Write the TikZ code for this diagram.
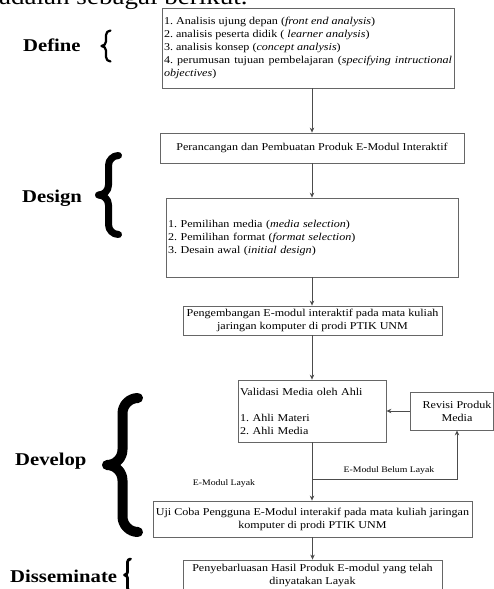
\documentclass[tikz,border=0pt]{standalone}
\usepackage{fontspec}
\setmainfont{Liberation Serif}[FakeStretch=1.15]
\usetikzlibrary{arrows.meta}
\frenchspacing
\newcommand\drawbrace[5]{% x0 x1 y0 y1 linewidth
  \pgfmathsetmacro\bcXa{(#1+#2)/2}%
  \pgfmathsetmacro\bcR{(#2-#1)/2}%
  \pgfmathsetmacro\bcYm{(#3+#4)/2}%
  \draw[line width=#5, line cap=round, line join=round]
    (#2,#3) .. controls ({#2-0.552*\bcR},#3) and (\bcXa,{#3+0.448*\bcR}) .. (\bcXa,{#3+\bcR})
    -- (\bcXa,{\bcYm-\bcR}) .. controls (\bcXa,{\bcYm-0.448*\bcR}) and ({#1+0.552*\bcR},\bcYm) .. (#1,\bcYm)
    .. controls ({#1+0.552*\bcR},\bcYm) and (\bcXa,{\bcYm+0.448*\bcR}) .. (\bcXa,{\bcYm+\bcR})
    -- (\bcXa,{#4-\bcR}) .. controls (\bcXa,{#4-0.448*\bcR}) and ({#2-0.552*\bcR},#4) .. (#2,#4);
}
\begin{document}
\begin{tikzpicture}[x=1pt,y=-1pt,
  box/.style={draw=black!60, line width=0.8pt, inner sep=1.5pt, font=\fontsize{10.5}{13}\selectfont},
  conn/.style={draw=black!70, line width=0.8pt, -{Stealth[length=5pt,width=4.5pt]}},
  phase/.style={font=\fontsize{18}{20}\selectfont\bfseries, anchor=base west, inner sep=0pt},
  small/.style={font=\fontsize{8.5}{10}\selectfont, inner sep=0pt}]
\useasboundingbox (0,0) rectangle (494,589);
\node[anchor=base west, inner sep=0pt, font=\fontsize{23.5}{26}\selectfont] (intro) at (-1,5) {adalah sebagai berikut.};

% Define
\node[box, minimum width=292pt, minimum height=80pt, text width=288pt, align=justify] (b1) at (308,48)
 {1. Analisis ujung depan (\textit{front end analysis})\par
  2. analisis peserta didik ( \textit{learner analysis})\par
  3. analisis konsep (\textit{concept analysis})\par
  4. perumusan tujuan pembelajaran (\textit{specifying intructional objectives})};

% Design
\node[box, minimum width=304pt, minimum height=30pt] (b2) at (312,148)
 {Perancangan dan Pembuatan Produk E-Modul Interaktif};
\node[box, minimum width=292pt, minimum height=79pt, text width=288pt, align=left] (b3) at (312,237.5)
 {1. Pemilihan media (\textit{media selection})\\2. Pemilihan format (\textit{format selection})\\3. Desain awal (\textit{initial design})};
\node[box, minimum width=259pt, minimum height=29pt, align=center] (b4) at (312.5,320.5)
 {Pengembangan E-modul interaktif pada mata kuliah\\jaringan komputer di prodi PTIK UNM};

% Develop
\node[box, minimum width=148pt, minimum height=62pt, text width=144pt, align=left] (b5) at (312,411)
 {Validasi Media oleh Ahli\\[13pt]1. Ahli Materi\\2. Ahli Media};
\node[box, minimum width=83pt, minimum height=38pt] (rev) at (451.5,411) {};
\node[font=\fontsize{10.5}{13}\selectfont, align=center, inner sep=0pt] (revtext) at (457,411) {Revisi Produk\\Media};
\node[box, minimum width=319pt, minimum height=36pt, align=center, inner xsep=0.5pt] (b7) at (312.5,519)
 {Uji Coba Pengguna E-Modul interakif pada mata kuliah jaringan\\komputer di prodi PTIK UNM};

% Disseminate
\node[box, minimum width=259pt, minimum height=30pt, align=center] (b8) at (312.5,575)
 {Penyebarluasan Hasil Produk E-modul yang telah\\dinyatakan Layak};

% connectors
\draw[conn] (b1.south -| b2.north) -- (b2.north);
\draw[conn] (b2.south) -- (b3.north);
\draw[conn] (b3.south) -- (b3.south |- b4.north);
\draw[conn] (b4.south -| b5.north) -- (b5.north);
\draw[conn] (rev.west) -- (b5.east);
\draw[conn] (b5.south) -- (b5.south |- b7.north);
\coordinate (fb) at (457,479);
\draw[conn] (b5.south |- fb) -- (fb) -- (fb |- rev.south);
\draw[conn] (b7.south) -- (b8.north);

\node[small] (lbl1) at (389,470) {E-Modul Belum Layak};
\node[small] (lbl2) at (224,483) {E-Modul Layak};

% phases
\node[phase] (pdef) at (23,51) {Define};
\node[phase] (pdes) at (22,202) {Design};
\node[phase] (pdev) at (15,465) {Develop};
\node[phase] (pdis) at (10,582) {Disseminate};

% braces
\drawbrace{101.5}{110.5}{30.5}{61.5}{2.2pt}
\drawbrace{98.5}{118.5}{155.5}{234.5}{7pt}
\drawbrace{107}{138}{398}{532}{10pt}
\drawbrace{124.5}{130.5}{559}{591}{2.8pt}
\end{tikzpicture}
\end{document}
